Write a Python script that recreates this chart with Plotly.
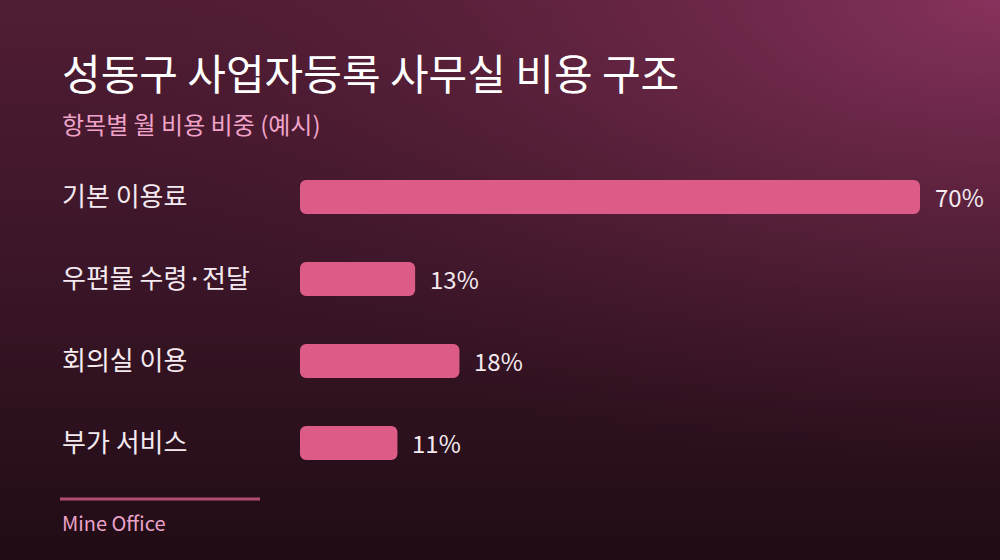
import base64
import plotly.graph_objects as go

categories = ["기본 이용료", "우편물 수령·전달", "회의실 이용", "부가 서비스"]
shares = [70, 13, 18, 11]
value_labels = ["70%", "13%", "18%", "11%"]

title_text = "성동구 사업자등록 사무실 비용 구조"
subtitle_text = "항목별 월 비용 비중 (예시)"
source_text = "Mine Office"

FONT = "Noto Sans CJK KR"
W, H = 1000, 560
BAR_COLOR = "#dc5b87"

# background gradient as an svg image
bg_svg = (
    "<svg xmlns='http://www.w3.org/2000/svg' width='1000' height='560'>"
    "<defs>"
    "<linearGradient id='a' x1='0' y1='0' x2='0' y2='1'>"
    "<stop offset='0' stop-color='#511d34'/>"
    "<stop offset='0.5' stop-color='#3a1527'/>"
    "<stop offset='1' stop-color='#200c15'/>"
    "</linearGradient>"
    "<radialGradient id='b' gradientUnits='userSpaceOnUse' cx='0' cy='0' r='1' "
    "gradientTransform='translate(1000 0) scale(950 470)'>"
    "<stop offset='0' stop-color='#87325c' stop-opacity='1'/>"
    "<stop offset='0.5' stop-color='#6a2746' stop-opacity='0.55'/>"
    "<stop offset='1' stop-color='#4a1a30' stop-opacity='0'/>"
    "</radialGradient>"
    "</defs>"
    "<rect width='1000' height='560' fill='url(#a)'/>"
    "<rect width='1000' height='560' fill='url(#b)'/>"
    "</svg>"
)
bg_src = "data:image/svg+xml;base64," + base64.b64encode(bg_svg.encode()).decode()

idx = list(range(len(categories)))

fig = go.Figure()
# each bar is two overlapping halves so both ends get rounded corners
fig.add_trace(go.Bar(
    x=[-0.6 * v for v in shares],
    base=[0.6 * v for v in shares],
    y=idx, orientation="h", width=0.415,
    marker=dict(color=BAR_COLOR, line=dict(width=0)),
    hoverinfo="skip",
))
fig.add_trace(go.Bar(
    x=[0.6 * v for v in shares],
    base=[0.4 * v for v in shares],
    y=idx, orientation="h", width=0.415,
    marker=dict(color=BAR_COLOR, line=dict(width=0)),
    hoverinfo="skip",
))


def py(px):
    return 1 - px / H


annotations = []
for i, (c, v, lab) in enumerate(zip(categories, shares, value_labels)):
    annotations.append(dict(
        x=0.06, xref="paper", y=i, yref="y", text=c, showarrow=False,
        xanchor="left", yanchor="middle", yshift=3,
        font=dict(family=FONT, size=26, color="#f4eaf0"),
    ))
    annotations.append(dict(
        x=v, xref="x", y=i, yref="y", text=lab, showarrow=False,
        xanchor="left", yanchor="middle", xshift=13, yshift=1,
        font=dict(family=FONT, size=24, color="#f4eaf0"),
    ))

annotations += [
    dict(x=0.06, y=py(71), xref="paper", yref="paper", text=title_text,
         showarrow=False, xanchor="left", yanchor="middle",
         font=dict(family=FONT, size=42, color="#ffffff")),
    dict(x=0.06, y=py(123), xref="paper", yref="paper", text=subtitle_text,
         showarrow=False, xanchor="left", yanchor="middle",
         font=dict(family=FONT, size=24, color="#f0a3c9")),
    dict(x=0.06, y=py(522), xref="paper", yref="paper", text=source_text,
         showarrow=False, xanchor="left", yanchor="middle",
         font=dict(family=FONT, size=20, color="#eba3c9")),
]

fig.update_layout(
    width=W, height=H,
    margin=dict(l=0, r=0, t=0, b=0),
    paper_bgcolor="#2a1020",
    plot_bgcolor="rgba(0,0,0,0)",
    showlegend=False,
    barmode="overlay",
    barcornerradius=6,
    xaxis=dict(domain=[0.3, 1.0], range=[0, 700 / (620 / 70)],
               visible=False, fixedrange=True),
    yaxis=dict(range=[(560 - 197) / 82, -197 / 82], visible=False, fixedrange=True),
    annotations=annotations,
    shapes=[dict(type="line", xref="paper", yref="paper",
                 x0=0.06, x1=0.26, y0=py(499), y1=py(499),
                 line=dict(color="#b24c72", width=3))],
    images=[dict(source=bg_src, xref="paper", yref="paper", x=0, y=1,
                 sizex=1, sizey=1, sizing="stretch", layer="below",
                 xanchor="left", yanchor="top")],
)

fig.write_html("out.html", config={"displayModeBar": False},
               post_script="document.body.style.margin='0';")
